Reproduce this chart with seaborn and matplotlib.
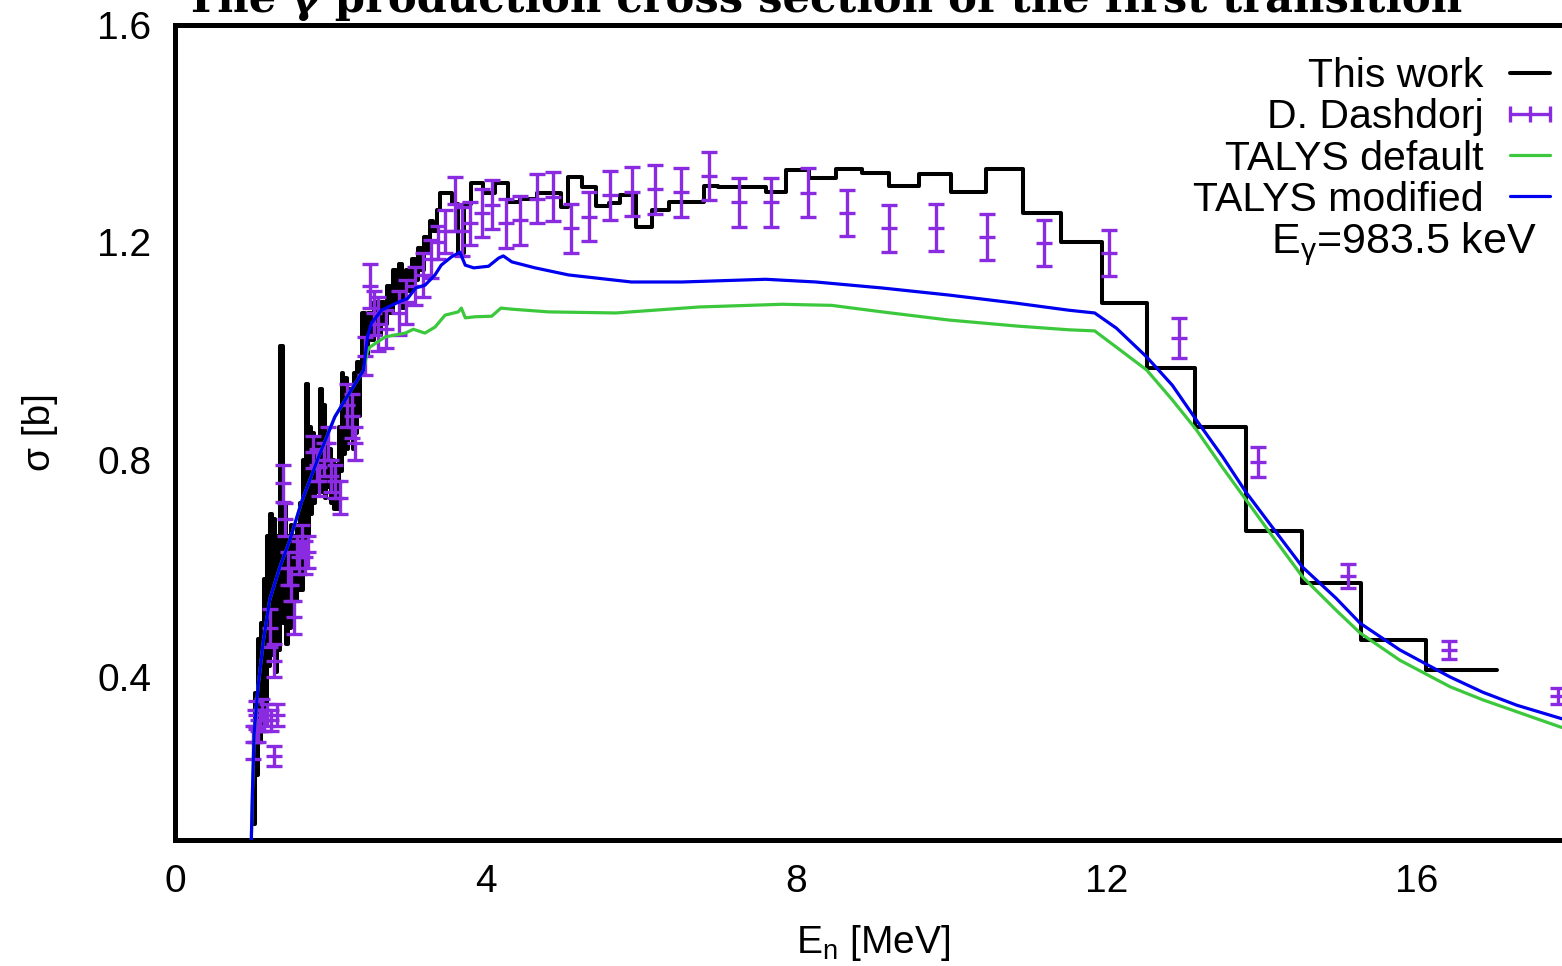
import matplotlib
matplotlib.use("Agg")
import numpy as np
import pandas as pd
import matplotlib.pyplot as plt
import seaborn as sns
from matplotlib.lines import Line2D
from matplotlib.legend_handler import HandlerLine2D

# ---------------- data ----------------
# "This work": histogram, left bin edges (last entry = right edge of last bin)
this_work_edges = [1.01, 1.03, 1.05, 1.07, 1.09, 1.11, 1.13, 1.15, 1.17, 1.19,
                   1.21, 1.23, 1.25, 1.27, 1.29, 1.31, 1.33, 1.35, 1.37, 1.39,
                   1.41, 1.43, 1.45, 1.47, 1.49, 1.51, 1.53, 1.55, 1.57, 1.59,
                   1.61, 1.63, 1.65, 1.67, 1.69, 1.71, 1.73, 1.75, 1.77, 1.79,
                   1.81, 1.83, 1.85, 1.87, 1.89, 1.91, 1.93, 1.95, 1.97, 1.99,
                   2.01, 2.03, 2.05, 2.07, 2.09, 2.11, 2.13, 2.15, 2.17, 2.19,
                   2.21, 2.23, 2.25, 2.27, 2.29, 2.31, 2.33, 2.35, 2.37, 2.39,
                   2.41, 2.45, 2.49, 2.53, 2.57, 2.61, 2.65, 2.69, 2.73, 2.77,
                   2.81, 2.85, 2.89, 2.93, 2.97, 3.01, 3.05, 3.09, 3.13, 3.17,
                   3.21, 3.25, 3.29, 3.33, 3.37, 3.42, 3.50, 3.57, 3.65, 3.72,
                   3.82, 3.97, 4.12, 4.29, 4.45, 4.67, 4.97, 5.07, 5.24, 5.42,
                   5.59, 5.74, 5.94, 6.15, 6.36, 6.81, 7.00, 7.61, 7.87, 8.17,
                   8.52, 8.85, 9.20, 9.59, 10.00, 10.45, 10.92, 11.42, 11.94, 12.52,
                   13.14, 13.80, 14.52, 15.28, 16.12, 17.03]
this_work_sigma = [0.13, 0.37, 0.22, 0.47, 0.28, 0.50, 0.31, 0.58, 0.34, 0.66,
                   0.42, 0.70, 0.44, 0.69, 0.41, 0.66, 0.45, 1.01, 1.01, 0.50,
                   0.72, 0.46, 0.66, 0.49, 0.68, 0.52, 0.66, 0.54, 0.68, 0.56,
                   0.72, 0.56, 0.80, 0.64, 0.94, 0.66, 0.86, 0.70, 0.85, 0.72,
                   0.84, 0.74, 0.80, 0.93, 0.74, 0.90, 0.73, 0.83, 0.75, 0.82,
                   0.72, 0.80, 0.71, 0.79, 0.71, 0.86, 0.78, 0.96, 0.81, 0.95,
                   0.82, 0.93, 0.84, 0.90, 0.82, 0.96, 0.85, 0.98, 0.88, 0.96,
                   1.07, 0.99, 1.07, 1.02, 1.09, 1.03, 1.09, 1.05, 1.12, 1.07,
                   1.15, 1.09, 1.16, 1.08, 1.15, 1.11, 1.17, 1.13, 1.19, 1.15,
                   1.21, 1.18, 1.24, 1.22, 1.26, 1.29, 1.29, 1.27, 1.18, 1.27,
                   1.31, 1.29, 1.31, 1.275, 1.28, 1.29, 1.265, 1.32, 1.302, 1.267,
                   1.272, 1.287, 1.228, 1.259, 1.275, 1.304, 1.302, 1.293, 1.333, 1.318,
                   1.335, 1.328, 1.304, 1.326, 1.293, 1.335, 1.254, 1.20, 1.088, 0.969,
                   0.860, 0.669, 0.573, 0.468, 0.413]

# D. Dashdorj data points
dash_E = [1.01, 1.03, 1.05, 1.07, 1.09, 1.12, 1.15, 1.18, 1.24, 1.27,
          1.23, 1.27, 1.32, 1.39, 1.42, 1.46, 1.50, 1.53, 1.57, 1.60,
          1.64, 1.68, 1.72, 1.78, 1.83, 1.86, 1.92, 1.97, 2.01, 2.06,
          2.12, 2.22, 2.28, 2.32, 2.45, 2.51, 2.56, 2.62, 2.72, 2.88,
          2.98, 3.09, 3.20, 3.30, 3.39, 3.48, 3.61, 3.70, 3.80, 3.95,
          4.08, 4.26, 4.45, 4.66, 4.87, 5.10, 5.33, 5.61, 5.89, 6.19,
          6.52, 6.88, 7.27, 7.68, 8.16, 8.66, 9.20, 9.80, 10.46, 11.20,
          12.03, 12.93, 13.96, 15.11, 16.41, 17.82]
dash_sigma = [0.28, 0.31, 0.33, 0.30, 0.32, 0.34, 0.32, 0.33, 0.32, 0.255,
              0.49, 0.43, 0.33, 0.757, 0.69, 0.60, 0.57, 0.51, 0.63, 0.62,
              0.65, 0.62, 0.63, 0.814, 0.79, 0.76, 0.80, 0.83, 0.77, 0.76,
              0.73, 0.90, 0.88, 0.83, 0.99, 1.12, 1.07, 1.05, 1.04, 1.07,
              1.09, 1.12, 1.14, 1.17, 1.20, 1.22, 1.27, 1.22, 1.235, 1.254,
              1.269, 1.235, 1.241, 1.28, 1.284, 1.226, 1.247, 1.287, 1.293, 1.298,
              1.292, 1.322, 1.274, 1.274, 1.291, 1.254, 1.226, 1.227, 1.21, 1.199,
              1.18, 1.024, 0.796, 0.586, 0.450, 0.365]
dash_err = [0.03, 0.03, 0.025, 0.02, 0.02, 0.02, 0.02, 0.02, 0.02, 0.018,
            0.035, 0.03, 0.02, 0.034, 0.03, 0.03, 0.03, 0.03, 0.03, 0.03,
            0.03, 0.03, 0.03, 0.03, 0.03, 0.027, 0.03, 0.03, 0.03, 0.03,
            0.03, 0.04, 0.04, 0.03, 0.035, 0.04, 0.04, 0.05, 0.035, 0.04,
            0.04, 0.035, 0.04, 0.035, 0.03, 0.04, 0.05, 0.045, 0.04, 0.045,
            0.045, 0.045, 0.045, 0.045, 0.045, 0.045, 0.045, 0.045, 0.045, 0.045,
            0.045, 0.045, 0.045, 0.045, 0.045, 0.043, 0.043, 0.043, 0.043, 0.043,
            0.042, 0.036, 0.028, 0.022, 0.016, 0.014]

# TALYS modified
talys_mod_E = [0.975, 0.99, 1.00, 1.02, 1.07, 1.14, 1.22, 1.35, 1.48, 1.63,
               1.85, 2.06, 2.27, 2.43, 2.48, 2.53, 2.66, 2.88, 3.00, 3.10,
               3.22, 3.35, 3.43, 3.56, 3.67, 3.74, 3.85, 4.04, 4.17, 4.23,
               4.34, 4.64, 5.07, 5.88, 6.53, 7.61, 8.26, 9.11, 9.97, 10.84,
               11.52, 11.85, 12.13, 12.52, 12.85, 13.16, 13.50, 13.80, 14.10, 14.53,
               14.96, 15.27, 15.78, 16.43, 16.85, 17.29, 17.85, 18.0]
talys_mod_sigma = [0.05, 0.14, 0.20, 0.297, 0.382, 0.468, 0.542, 0.602, 0.652, 0.722,
                   0.805, 0.879, 0.928, 0.965, 1.026, 1.051, 1.075, 1.090, 1.097, 1.116,
                   1.121, 1.140, 1.158, 1.173, 1.182, 1.158, 1.153, 1.156, 1.171, 1.175,
                   1.164, 1.153, 1.140, 1.127, 1.127, 1.132, 1.127, 1.116, 1.103, 1.088,
                   1.075, 1.070, 1.042, 0.989, 0.937, 0.873, 0.805, 0.740, 0.683, 0.602,
                   0.545, 0.499, 0.450, 0.400, 0.372, 0.348, 0.324, 0.318]

# TALYS default
talys_def_E = [0.975, 0.99, 1.00, 1.02, 1.07, 1.14, 1.22, 1.35, 1.48, 1.63,
               1.85, 2.06, 2.27, 2.43, 2.48, 2.51, 2.71, 2.97, 3.07, 3.22,
               3.35, 3.48, 3.65, 3.69, 3.74, 3.87, 4.08, 4.20, 4.34, 4.81,
               5.68, 6.75, 7.82, 8.46, 9.11, 9.97, 10.84, 11.52, 11.85, 12.13,
               12.52, 12.85, 13.16, 13.50, 13.80, 14.10, 14.53, 14.96, 15.27, 15.78,
               16.43, 16.85, 17.29, 17.85, 18.0]
talys_def_sigma = [0.05, 0.14, 0.20, 0.297, 0.382, 0.468, 0.542, 0.602, 0.652, 0.722,
                   0.805, 0.879, 0.928, 0.965, 1.000, 1.007, 1.026, 1.033, 1.040, 1.033,
                   1.044, 1.066, 1.072, 1.079, 1.061, 1.063, 1.064, 1.079, 1.077, 1.072,
                   1.070, 1.081, 1.086, 1.084, 1.072, 1.057, 1.046, 1.039, 1.037, 1.007,
                   0.965, 0.910, 0.855, 0.785, 0.726, 0.667, 0.584, 0.523, 0.481, 0.431,
                   0.382, 0.358, 0.336, 0.308, 0.302]

x_ticks = [0, 4, 8, 12, 16]
y_ticks = [0.4, 0.8, 1.2, 1.6]
legend_labels = ["This work", "D. Dashdorj", "TALYS default", "TALYS modified"]
title_text = "The \u03b3 production cross section of the first transition"
egamma_text = r"E$_{\mathrm{\gamma}}$=983.5 keV"

# ---------------- style ----------------
sns.set_theme(style="white")
plt.rcParams["font.family"] = ["Liberation Sans", "DejaVu Sans"]
plt.rcParams["mathtext.fontset"] = "custom"
plt.rcParams["mathtext.rm"] = "Liberation Sans"
plt.rcParams["mathtext.it"] = "Liberation Sans:italic"
plt.rcParams["mathtext.bf"] = "Liberation Sans:bold"
plt.rcParams["text.color"] = "black"
plt.rcParams["axes.labelcolor"] = "black"
plt.rcParams["xtick.color"] = "black"
plt.rcParams["ytick.color"] = "black"

C_BLACK = "black"
C_PURPLE = "#8a2be2"
C_GREEN = "#3cc83c"
C_BLUE = "#0000f0"

W, H = 1562, 966
fig = plt.figure(figsize=(W / 100, H / 100), dpi=100)
L, R, T, B = 175, 1572, 25, 840
ax = fig.add_axes([L / W, 1 - B / H, (R - L) / W, (B - T) / H])

# histogram as steps
step_df = pd.DataFrame({"E": this_work_edges,
                        "sigma": this_work_sigma + [this_work_sigma[-1]]})
sns.lineplot(data=step_df, x="E", y="sigma", drawstyle="steps-post",
             estimator=None, sort=False, color=C_BLACK, lw=2.9, ax=ax, zorder=2)

ax.errorbar(dash_E, dash_sigma, yerr=dash_err, fmt="_", ms=11, mew=2.4,
            color=C_PURPLE, ecolor=C_PURPLE, elinewidth=2.4, capsize=5.5,
            capthick=2.4, zorder=3)

def_df = pd.DataFrame({"E": talys_def_E, "sigma": talys_def_sigma})
mod_df = pd.DataFrame({"E": talys_mod_E, "sigma": talys_mod_sigma})
sns.lineplot(data=def_df, x="E", y="sigma", estimator=None, sort=False,
             color=C_GREEN, lw=2.3, ax=ax, zorder=4)
sns.lineplot(data=mod_df, x="E", y="sigma", estimator=None, sort=False,
             color=C_BLUE, lw=2.3, ax=ax, zorder=5)

ax.set_xlim(0, 18)
ax.set_ylim(0.1, 1.6)
ax.set_xticks(x_ticks)
ax.set_xticklabels([str(v) for v in x_ticks])
ax.set_yticks(y_ticks)
ax.set_yticklabels([f"{v:.1f}" for v in y_ticks])
ax.minorticks_off()
ax.tick_params(axis="both", direction="in", length=11, width=3.4,
               labelsize=28, pad=17, colors="black", top=False, right=False)
for s in ax.spines.values():
    s.set_visible(True)
    s.set_linewidth(3.6)
    s.set_color("black")

ax.set_xlabel(r"E$_{\mathrm{n}}$ [MeV]", fontsize=28, labelpad=17, color="black")
ax.set_ylabel("\u03c3 [b]", fontsize=28, labelpad=28, color="black")

handles = [
    Line2D([], [], color=C_BLACK, lw=2.9),
    Line2D([], [], color=C_PURPLE, lw=2.4, marker="|", ms=11, mew=2.4),
    Line2D([], [], color=C_GREEN, lw=2.3),
    Line2D([], [], color=C_BLUE, lw=2.3),
]
leg = ax.legend(handles, legend_labels, loc="upper right",
                bbox_to_anchor=(1550 / W, 1 - 57 / H),
                bbox_transform=fig.transFigure, frameon=False,
                markerfirst=False, handlelength=0.98, handletextpad=0.64,
                labelspacing=0.08, borderpad=0, borderaxespad=0,
                numpoints=3, fontsize=29.5,
                handler_map={Line2D: HandlerLine2D(marker_pad=0, numpoints=3)})
for t in leg.get_texts():
    t.set_color("black")

fig.text(1537 / W, 1 - 253 / H, egamma_text, ha="right", va="baseline",
         fontsize=31, color="black")

# title (mostly cut off at top in reference)
ttl = fig.text(185 / W, 1 - 12 / H, title_text, ha="left", va="baseline",
               fontsize=30, fontweight="bold", family=["DejaVu Serif"],
               color="black")
renderer = fig.canvas.get_renderer()
bb = ttl.get_window_extent(renderer)
ttl.set_fontsize(30 * 1277 / bb.width)

fig.savefig("out.png", dpi=100)
